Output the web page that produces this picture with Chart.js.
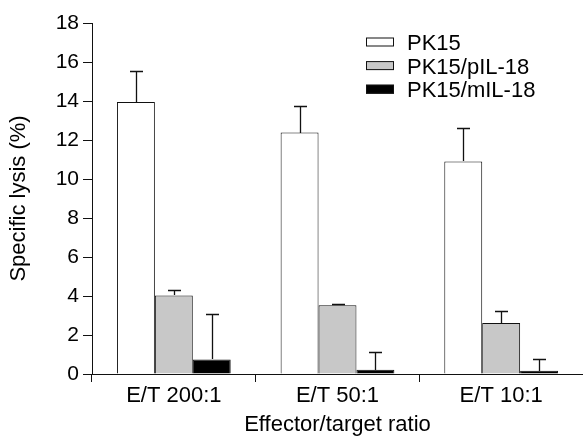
<!DOCTYPE html>
<html>
<head>
<meta charset="utf-8">
<script src="https://cdn.jsdelivr.net/npm/chart.js@4/dist/chart.umd.min.js"></script>
<style>
  html, body { margin: 0; padding: 0; background: #fff; }
  #wrap { width: 583px; height: 441px; }
</style>
</head>
<body>
<div id="wrap"><canvas id="lysisChart"></canvas></div>
<script>
// E/T ratio groups
const ratios = ['E/T 200:1', 'E/T 50:1', 'E/T 10:1']
const seriesNames = ['PK15', 'PK15/pIL-18', 'PK15/mIL-18']

// mean specific lysis (%)
const pk15 = [13.95, 12.38, 10.9]
const pk15pIL18 = [4.03, 3.52, 2.62]
const pk15mIL18 = [0.75, 0.22, 0.17]

// upper error (SD)
const pk15Err = [1.6, 1.38, 1.72]
const pk15pIL18Err = [0.29, 0.05, 0.63]
const pk15mIL18Err = [2.31, 0.92, 0.61]

const yTicks = [0, 2, 4, 6, 8, 10, 12, 14, 16, 18]

const font = 'Liberation Sans, Arial, sans-serif'
const ink = '#111'

// draws the upper half of each error bar with a small cap
const errorBars = {
    id: 'errorBars',
    afterDatasetsDraw (chart) {
        const ctx = chart.ctx
        const y = chart.scales.y
        ctx.save()
        ctx.strokeStyle = ink
        ctx.lineWidth = 1.3
        chart.data.datasets.forEach((ds, i) => {
            const meta = chart.getDatasetMeta(i)
            meta.data.forEach((bar, j) => {
                const x = Math.round(bar.x) + 0.5
                const top = Math.round(y.getPixelForValue(ds.data[j] + ds.errors[j])) + 0.5
                const base = Math.round(y.getPixelForValue(ds.data[j]))
                ctx.beginPath()
                ctx.moveTo(x, base)
                ctx.lineTo(x, top)
                ctx.moveTo(x - 6.5, top)
                ctx.lineTo(x + 6.5, top)
                ctx.stroke()
            })
        })
        ctx.restore()
    }
}

// legend block in the upper right
const boxLegend = {
    id: 'boxLegend',
    afterDraw (chart) {
        const ctx = chart.ctx
        ctx.save()
        ctx.font = '22px ' + font
        ctx.textBaseline = 'middle'
        chart.data.datasets.forEach((ds, i) => {
            const yy = 42 + i * 23.6
            ctx.fillStyle = ds.backgroundColor
            ctx.fillRect(366, yy - 4.5, 28, 9)
            ctx.strokeStyle = ink
            ctx.lineWidth = 1
            ctx.strokeRect(366.5, yy - 4, 27, 8)
            ctx.fillStyle = '#000'
            ctx.fillText(ds.label, 407, yy + 2)
        })
        ctx.restore()
    }
}

new Chart(document.getElementById('lysisChart'), {
    type: 'bar',
    data: {
        labels: ratios,
        datasets: [
            { label: seriesNames[0], data: pk15, errors: pk15Err, backgroundColor: '#ffffff' },
            { label: seriesNames[1], data: pk15pIL18, errors: pk15pIL18Err, backgroundColor: '#c8c8c8' },
            { label: seriesNames[2], data: pk15mIL18, errors: pk15mIL18Err, backgroundColor: '#000000' }
        ].map(ds => Object.assign(ds, {
            borderColor: ink,
            borderWidth: 1,
            borderSkipped: 'bottom',
            categoryPercentage: 0.695,
            barPercentage: 1.0
        }))
    },
    options: {
        responsive: true,
        maintainAspectRatio: false,
        animation: false,
        layout: { padding: { top: 23, left: 0, right: 0, bottom: 0 } },
        plugins: {
            legend: { display: false },
            tooltip: { enabled: false }
        },
        scales: {
            x: {
                grid: {
                    offset: true,
                    drawOnChartArea: false,
                    drawTicks: true,
                    tickLength: 8,
                    color: ink
                },
                border: { color: ink, width: 1 },
                ticks: { color: '#000', font: { family: font, size: 22 }, padding: 1 },
                title: {
                    display: true,
                    text: 'Effector/target ratio',
                    color: '#000',
                    font: { family: font, size: 22 },
                    padding: { top: 0, bottom: 3 }
                },
                afterFit (scale) { scale.height = 67 }
            },
            y: {
                min: 0,
                max: 18,
                afterBuildTicks (scale) { scale.ticks = yTicks.map(v => ({ value: v })) },
                grid: {
                    drawOnChartArea: false,
                    drawTicks: true,
                    tickLength: 9,
                    color: ink
                },
                border: { color: ink, width: 1 },
                ticks: { color: '#000', font: { family: font, size: 21 }, padding: 4 },
                title: {
                    display: true,
                    text: 'Specific lysis (%)',
                    color: '#000',
                    font: { family: font, size: 22 },
                    padding: { top: 6, bottom: 0 }
                },
                afterFit (scale) { scale.width = 92 }
            }
        }
    },
    plugins: [errorBars, boxLegend]
})
</script>
</body>
</html>
